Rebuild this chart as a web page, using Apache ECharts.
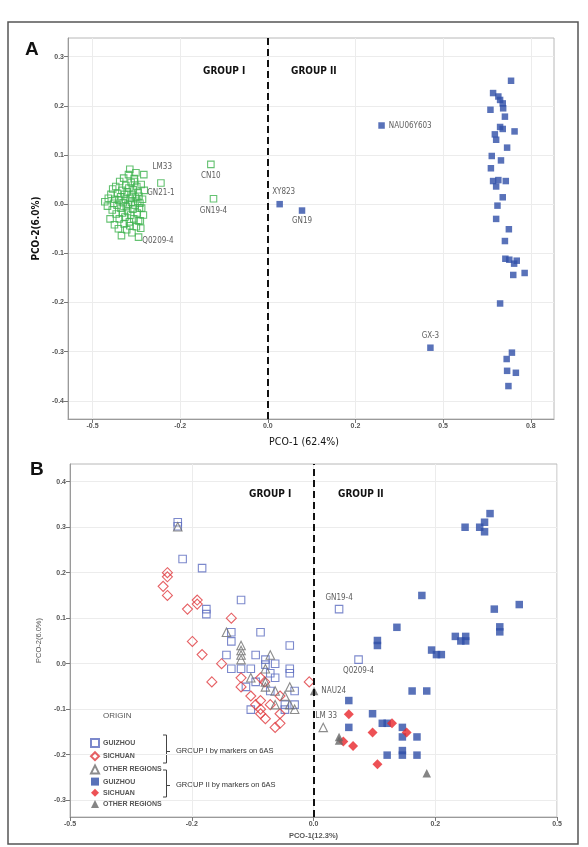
<!DOCTYPE html>
<html>
<head>
<meta charset="utf-8">
<script src="https://cdn.jsdelivr.net/npm/echarts@6/dist/echarts.min.js"></script>
<style>
  html, body { margin: 0; padding: 0; background: #fff; }
  #main { width: 588px; height: 847px; }
</style>
</head>
<body>
<div id="main"></div>
<script>
// ---- panel A data (PCO-1 / PCO-2) ----
const xTickValuesA = [-0.4, -0.2, 0, 0.2, 0.4, 0.6];
const xTickLabelsA = ['-0.5', '-0.2', '0.0', '0.2', '0.5', '0.8'];
const yTickValuesA = [0.3, 0.2, 0.1, 0, -0.1, -0.2, -0.3, -0.4];
const yTickLabelsA = ['0.3', '0.2', '0.1', '0.0', '-0.1', '-0.2', '-0.3', '-0.4'];

// group I, green open squares
const greenA = [
  [-0.372, 0.005], [-0.366, -0.004], [-0.364, 0.012], [-0.360, -0.030], [-0.358, 0.020],
  [-0.355, -0.012], [-0.354, 0.031], [-0.352, 0.002], [-0.350, -0.042], [-0.349, 0.010],
  [-0.347, 0.036], [-0.346, -0.020], [-0.344, -0.002], [-0.343, 0.022], [-0.341, -0.050],
  [-0.340, 0.008], [-0.339, -0.030], [-0.338, 0.046], [-0.336, 0.015], [-0.335, -0.008],
  [-0.334, -0.064], [-0.333, 0.028], [-0.332, -0.018], [-0.330, 0.003], [-0.329, 0.053],
  [-0.328, -0.040], [-0.327, 0.020], [-0.326, -0.026], [-0.325, 0.010], [-0.324, 0.038],
  [-0.323, -0.005], [-0.322, -0.052], [-0.321, 0.025], [-0.320, -0.015], [-0.319, 0.000],
  [-0.318, 0.060], [-0.317, 0.033], [-0.316, -0.036], [-0.315, 0.071], [-0.315, -0.044],
  [-0.314, 0.012], [-0.313, -0.022], [-0.312, 0.044], [-0.311, 0.004], [-0.310, -0.058],
  [-0.309, 0.020], [-0.308, -0.010], [-0.307, 0.029], [-0.306, -0.030], [-0.305, 0.052],
  [-0.304, 0.046], [-0.303, -0.002], [-0.302, 0.014], [-0.301, 0.064], [-0.300, -0.046],
  [-0.299, 0.036], [-0.298, -0.018], [-0.297, 0.006], [-0.296, 0.024], [-0.295, -0.034],
  [-0.294, 0.016], [-0.293, -0.008], [-0.292, 0.002], [-0.291, -0.034], [-0.290, -0.049],
  [-0.289, 0.040], [-0.288, -0.008], [-0.286, 0.010], [-0.284, -0.022], [-0.282, 0.028]
];
const greenNamedA = [
  [-0.283, 0.060, 'LM33'], [-0.244, 0.043, 'GN21-1'], [-0.130, 0.081, 'CN10'],
  [-0.124, 0.011, 'GN19-4'], [-0.295, -0.067, 'Q0209-4']
];

// group II, blue filled squares
const blueA = [
  [0.555, 0.251], [0.514, 0.226], [0.526, 0.219], [0.530, 0.212], [0.536, 0.205],
  [0.508, 0.192], [0.537, 0.195], [0.541, 0.178], [0.563, 0.148], [0.530, 0.157],
  [0.536, 0.153], [0.518, 0.142], [0.521, 0.131], [0.546, 0.115], [0.511, 0.098],
  [0.532, 0.089], [0.509, 0.073], [0.514, 0.047], [0.526, 0.049], [0.543, 0.047],
  [0.521, 0.036], [0.536, 0.014], [0.524, -0.003], [0.521, -0.030], [0.550, -0.051],
  [0.541, -0.075], [0.542, -0.111], [0.551, -0.113], [0.568, -0.115], [0.562, -0.121],
  [0.560, -0.144], [0.586, -0.140], [0.530, -0.202], [0.557, -0.302], [0.545, -0.315],
  [0.546, -0.339], [0.566, -0.343], [0.549, -0.370]
];
const blueNamedA = [
  [0.2595, 0.160, 'NAU06Y603'], [0.027, 0.000, 'XY823'], [0.078, -0.013, 'GN19'],
  [0.371, -0.292, 'GX-3']
];

// ---- panel B data ----
const xTickValuesB = [-0.4, -0.2, 0, 0.2, 0.4];
const xTickLabelsB = ['-0.5', '-0.2', '0.0', '0.2', '0.5'];
const yTickValuesB = [0.4, 0.3, 0.2, 0.1, 0, -0.1, -0.2, -0.3];
const yTickLabelsB = ['0.4', '0.3', '0.2', '0.1', '0.0', '-0.1', '-0.2', '-0.3'];

const openGuizhouB = [
  [-0.223, 0.311], [-0.223, 0.302], [-0.215, 0.230], [-0.183, 0.210], [-0.119, 0.140],
  [-0.176, 0.120], [-0.176, 0.109], [-0.135, 0.069], [-0.087, 0.069], [-0.135, 0.049],
  [-0.039, 0.040], [-0.143, 0.019], [-0.095, 0.019], [-0.079, 0.009], [-0.063, 0.000],
  [-0.079, -0.002], [-0.135, -0.011], [-0.119, -0.011], [-0.103, -0.011], [-0.039, -0.011],
  [-0.039, -0.021], [-0.071, -0.021], [-0.095, -0.040], [-0.063, -0.031], [-0.111, -0.051],
  [-0.071, -0.060], [-0.031, -0.060], [-0.103, -0.101], [-0.047, -0.101], [-0.047, -0.090],
  [-0.031, -0.090]
];
const openGuizhouNamedB = [[0.042, 0.120, 'GN19-4'], [0.074, 0.009, 'Q0209-4']];

const openSichuanB = [
  [-0.240, 0.200], [-0.240, 0.191], [-0.247, 0.170], [-0.240, 0.150], [-0.191, 0.140],
  [-0.191, 0.131], [-0.207, 0.120], [-0.135, 0.100], [-0.199, 0.049], [-0.183, 0.020],
  [-0.151, 0.000], [-0.167, -0.040], [-0.119, -0.031], [-0.119, -0.051], [-0.087, -0.031],
  [-0.080, -0.040], [-0.103, -0.071], [-0.087, -0.081], [-0.095, -0.090], [-0.071, -0.090],
  [-0.055, -0.071], [-0.087, -0.100], [-0.087, -0.110], [-0.079, -0.121], [-0.055, -0.110],
  [-0.055, -0.131], [-0.063, -0.140], [-0.007, -0.040]
];

const openOtherB = [
  [-0.223, 0.301], [-0.143, 0.069], [-0.119, 0.040], [-0.119, 0.029], [-0.119, 0.019],
  [-0.119, 0.009], [-0.071, 0.019], [-0.079, -0.011], [-0.103, -0.031], [-0.079, -0.040],
  [-0.079, -0.051], [-0.063, -0.060], [-0.047, -0.071], [-0.039, -0.051], [-0.063, -0.090],
  [-0.039, -0.090], [-0.031, -0.100]
];
const openOtherNamedB = [[0.016, -0.140, 'LM 33']];

const filledGuizhouB = [
  [0.290, 0.330], [0.281, 0.311], [0.273, 0.300], [0.281, 0.290], [0.249, 0.300],
  [0.178, 0.150], [0.297, 0.120], [0.338, 0.130], [0.306, 0.081], [0.306, 0.070],
  [0.137, 0.080], [0.105, 0.051], [0.105, 0.040], [0.233, 0.060], [0.242, 0.050],
  [0.250, 0.060], [0.250, 0.050], [0.194, 0.030], [0.202, 0.020], [0.210, 0.020],
  [0.162, -0.060], [0.186, -0.060], [0.058, -0.081], [0.097, -0.110], [0.113, -0.131],
  [0.121, -0.131], [0.058, -0.140], [0.146, -0.140], [0.146, -0.161], [0.170, -0.161],
  [0.146, -0.191], [0.146, -0.201], [0.121, -0.201], [0.170, -0.201]
];
const filledSichuanB = [
  [0.058, -0.111], [0.129, -0.131], [0.153, -0.151], [0.097, -0.151], [0.049, -0.171],
  [0.065, -0.181], [0.105, -0.221]
];
const filledOtherB = [[0.042, -0.161], [0.042, -0.169], [0.186, -0.241]];
const filledOtherNamedB = [[0.001, -0.060, 'NAU24']];

// label placement for the named points
const labelStyle = {
  'LM33': { position: 'right', offset: [0, -8] },
  'GN21-1': { position: 'bottom', distance: 2 },
  'CN10': { position: 'bottom', distance: 4 },
  'GN19-4': { position: 'bottom', distance: 4 },
  'Q0209-4': { position: 'right', distance: 0, offset: [0, 4] },
  'NAU06Y603': { position: 'right', distance: 4 },
  'XY823': { position: 'top', offset: [4, 0] },
  'GN19': { position: 'bottom', distance: 3 },
  'GX-3': { position: 'top', distance: 5 }
};
const labelStyleB = {
  'GN19-4': { position: 'top', distance: 3 },
  'Q0209-4': { position: 'bottom', distance: 3 },
  'NAU24': { position: 'right', distance: 3 },
  'LM 33': { position: 'top', offset: [3, 0], distance: 3 }
};

const narrow = "'Liberation Sans Narrow', 'DejaVu Sans Condensed', 'Liberation Sans', sans-serif";

function build(points, named, styles) {
  const out = points.slice();
  (named || []).forEach(function (p) {
    out.push({
      value: [p[0], p[1]],
      name: p[2],
      label: Object.assign({
        show: true,
        formatter: p[2],
        color: '#333',
        fontSize: 8,
        fontFamily: narrow
      }, styles[p[2]])
    });
  });
  return out;
}

function pick(values, labels) {
  return function (v) {
    for (let i = 0; i < values.length; i++) {
      if (Math.abs(values[i] - v) < 1e-6) return labels[i];
    }
    return '';
  };
}

function valueAxis(grid, min, max, ticks, labels, extra) {
  return Object.assign({
    type: 'value',
    gridIndex: grid,
    min: min,
    max: max,
    axisLine: { show: true, onZero: false, lineStyle: { color: '#9a9a9a', width: 1 } },
    axisTick: { show: true, inside: false, length: 4, customValues: ticks, lineStyle: { color: '#777' } },
    axisLabel: {
      customValues: ticks,
      formatter: pick(ticks, labels),
      fontSize: 7,
      fontWeight: 'bold',
      color: '#555',
      margin: 4
    },
    splitLine: { show: true, lineStyle: { color: '#ececec', width: 1 } }
  }, extra);
}

const dashed = {
  silent: true,
  symbol: ['none', 'none'],
  label: { show: false },
  lineStyle: { color: '#111', width: 2, type: [7, 4] },
  data: [{ xAxis: 0 }]
};

const openStyle = function (c) {
  return { color: 'rgba(255,255,255,0)', borderColor: c, borderWidth: 1.1 };
};

const chart = echarts.init(document.getElementById('main'), null, { renderer: 'canvas' });

const option = {
  animation: false,
  backgroundColor: '#fff',
  grid: [
    { left: 68, top: 38, width: 486, height: 381, show: true, borderColor: '#b8b8b8', borderWidth: 1, backgroundColor: '#fff' },
    { left: 70, top: 464, width: 487, height: 353, show: true, borderColor: '#b8b8b8', borderWidth: 1, backgroundColor: '#fff' }
  ],
  xAxis: [
    valueAxis(0, -0.456, 0.653, xTickValuesA, xTickLabelsA, {
      name: 'PCO-1 (62.4%)', nameLocation: 'middle', nameGap: 18,
      nameTextStyle: { fontSize: 10.5, color: '#111', fontFamily: narrow, padding: [0, 14, 0, 0] }
    }),
    valueAxis(1, -0.4, 0.4, xTickValuesB, xTickLabelsB, {
      name: 'PCO-1(12.3%)', nameLocation: 'middle', nameGap: 15,
      nameTextStyle: { fontSize: 7.5, fontWeight: 'bold', color: '#555' }
    })
  ],
  yAxis: [
    valueAxis(0, -0.437, 0.338, yTickValuesA, yTickLabelsA, {
      name: 'PCO-2(6.0%)', nameLocation: 'middle', nameGap: 20,
      nameTextStyle: { fontSize: 10, fontWeight: 'bold', color: '#111', fontFamily: narrow }
    }),
    valueAxis(1, -0.337, 0.439, yTickValuesB, yTickLabelsB, {
      name: 'PCO-2(6.0%)', nameLocation: 'middle', nameGap: 24,
      nameTextStyle: { fontSize: 7.5, color: '#555' }
    })
  ],
  legend: {
    orient: 'vertical',
    left: 85,
    top: 733,
    itemWidth: 8,
    itemHeight: 8,
    itemGap: 3.2,
    selectedMode: false,
    textStyle: { fontSize: 7, fontWeight: 'bold', color: '#555', lineHeight: 8, padding: [0, 0, 0, -1] },
    data: ['GUIZHOU', 'SICHUAN', 'OTHER REGIONS', 'GUIZHOU ', 'SICHUAN ', 'OTHER REGIONS ']
  },
  series: [
    {
      type: 'scatter', xAxisIndex: 0, yAxisIndex: 0, name: 'A group I',
      symbol: 'rect', symbolSize: 6.5,
      itemStyle: openStyle('#3fb34f'),
      data: build(greenA, greenNamedA, labelStyle),
      markLine: dashed
    },
    {
      type: 'scatter', xAxisIndex: 0, yAxisIndex: 0, name: 'A group II',
      symbol: 'rect', symbolSize: 6.5,
      itemStyle: { color: '#2f4fa8' },
      data: build(blueA, blueNamedA, labelStyle)
    },
    {
      type: 'scatter', xAxisIndex: 1, yAxisIndex: 1, name: 'GUIZHOU',
      symbol: 'rect', symbolSize: 7.5,
      itemStyle: openStyle('#5b6cbf'),
      data: build(openGuizhouB, openGuizhouNamedB, labelStyleB),
      markLine: dashed
    },
    {
      type: 'scatter', xAxisIndex: 1, yAxisIndex: 1, name: 'SICHUAN',
      symbol: 'diamond', symbolSize: 10,
      itemStyle: openStyle('#e0393e'),
      data: openSichuanB
    },
    {
      type: 'scatter', xAxisIndex: 1, yAxisIndex: 1, name: 'OTHER REGIONS',
      symbol: 'triangle', symbolSize: 8.5,
      itemStyle: openStyle('#6f6f6f'),
      data: build(openOtherB, openOtherNamedB, labelStyleB)
    },
    {
      type: 'scatter', xAxisIndex: 1, yAxisIndex: 1, name: 'GUIZHOU ',
      symbol: 'rect', symbolSize: 7.5,
      itemStyle: { color: '#2f4fa8' },
      data: filledGuizhouB
    },
    {
      type: 'scatter', xAxisIndex: 1, yAxisIndex: 1, name: 'SICHUAN ',
      symbol: 'diamond', symbolSize: 10,
      itemStyle: { color: '#e8262b' },
      data: filledSichuanB
    },
    {
      type: 'scatter', xAxisIndex: 1, yAxisIndex: 1, name: 'OTHER REGIONS ',
      symbol: 'triangle', symbolSize: 8.5,
      itemStyle: { color: '#666' },
      data: build(filledOtherB, filledOtherNamedB, labelStyleB)
    }
  ],
  graphic: [
    // outer frame of the figure
    { type: 'rect', shape: { x: 8, y: 22, width: 570, height: 822 }, style: { fill: null, stroke: '#555', lineWidth: 1.5 }, z: 100, silent: true },
    { type: 'text', left: 25, top: 40, style: { text: 'A', font: 'bold 19px Liberation Sans, Arial, sans-serif', fill: '#111' } },
    { type: 'text', left: 30, top: 460, style: { text: 'B', font: 'bold 19px Liberation Sans, Arial, sans-serif', fill: '#111' } },
    { type: 'text', left: 203, top: 66, style: { text: 'GROUP I', font: 'bold 10px ' + narrow, fill: '#111' } },
    { type: 'text', left: 291, top: 66, style: { text: 'GROUP II', font: 'bold 10px ' + narrow, fill: '#111' } },
    { type: 'text', left: 249, top: 489, style: { text: 'GROUP I', font: 'bold 10px ' + narrow, fill: '#111' } },
    { type: 'text', left: 338, top: 489, style: { text: 'GROUP II', font: 'bold 10px ' + narrow, fill: '#111' } },
    { type: 'text', left: 103, top: 712, style: { text: 'ORIGIN', font: '8px Liberation Sans, Arial, sans-serif', fill: '#555' } },
    // braces for the two groups of the legend
    { type: 'polyline', shape: { points: [[163, 735], [166.5, 735], [166.5, 763], [163, 763]] }, style: { stroke: '#444', lineWidth: 1, fill: null } },
    { type: 'line', shape: { x1: 166.5, y1: 751.5, x2: 170, y2: 751.5 }, style: { stroke: '#444', lineWidth: 1 } },
    { type: 'polyline', shape: { points: [[163, 770], [166.5, 770], [166.5, 797], [163, 797]] }, style: { stroke: '#444', lineWidth: 1, fill: null } },
    { type: 'line', shape: { x1: 166.5, y1: 785.5, x2: 170, y2: 785.5 }, style: { stroke: '#444', lineWidth: 1 } },
    { type: 'text', left: 176, top: 747, style: { text: 'GROUP I by markers on 6AS', font: '7.5px Liberation Sans, Arial, sans-serif', fill: '#333' } },
    { type: 'text', left: 176, top: 781, style: { text: 'GROUP II by markers on 6AS', font: '7.5px Liberation Sans, Arial, sans-serif', fill: '#333' } }
  ]
};

chart.setOption(option);
</script>
</body>
</html>
